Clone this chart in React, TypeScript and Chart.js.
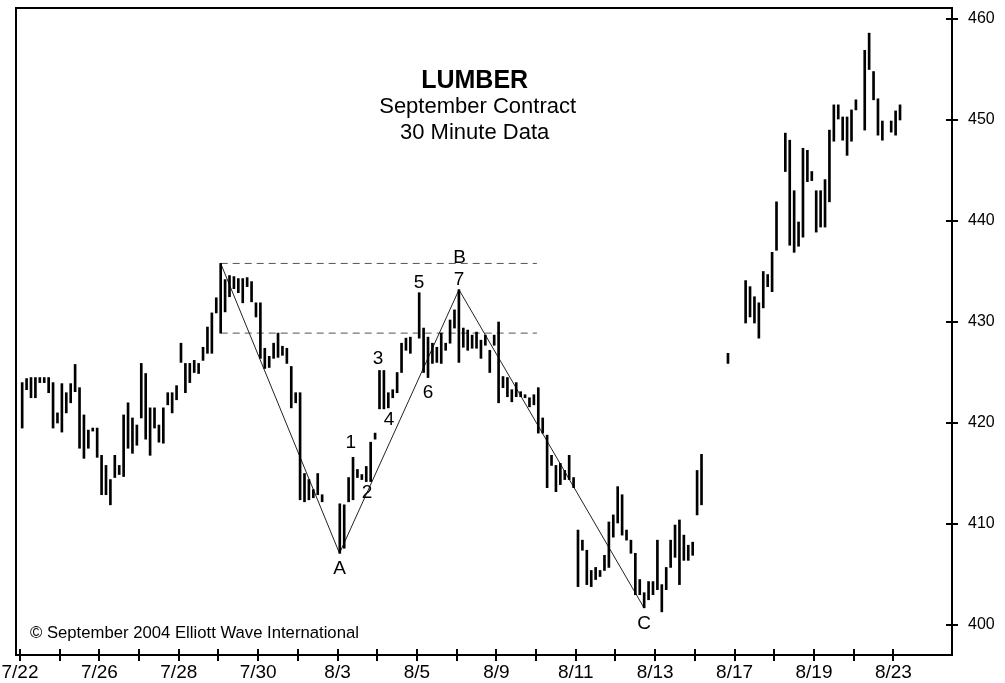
import { useEffect, useRef } from 'react';
import { Chart, registerables } from 'chart.js';

Chart.register(...registerables);

// Trading days (one x-axis tick per day, label on every other one)
const dayLabels = ['7/22', '7/23', '7/26', '7/27', '7/28', '7/29', '7/30', '8/2', '8/3', '8/4', '8/5', '8/6',
  '8/9', '8/10', '8/11', '8/12', '8/13', '8/16', '8/17', '8/18', '8/19', '8/20', '8/23'];

// 30-minute bars: 9 slots per trading day
const SLOTS = 9;
const N = null;
const barHighs: (number | null)[][] = [
  [424.0, 424.4, 424.5, 424.5, 424.5, 424.5, 424.5, 424.0, 421.0],
  [423.9, 423.0, 423.9, 425.8, 423.5, 420.8, 419.3, 419.5, 419.5],
  [416.8, 415.8, 414.4, 416.8, 415.8, 420.8, 422.0, 420.5, 419.8],
  [425.9, 424.9, 421.5, 421.5, 419.8, 421.5, 423.0, 423.0, 423.7],
  [427.9, 425.9, 425.9, 426.2, 425.9, 427.5, 429.5, 430.9, 432.4],
  [435.8, 434.2, 434.6, 434.5, 434.3, 434.3, 434.4, 434.0, 431.9],
  [431.9, 427.4, 426.6, 427.9, 428.9, 427.6, 427.4, 425.6, 423.0],
  [423.0, 415.0, 414.4, 413.4, 415.0, 412.9, N, N, N],
  [412.0, 411.9, 414.6, 416.6, 415.4, 414.9, 415.7, 418.1, 419.0],
  [425.2, 425.2, 423.0, 423.3, 425.0, 427.9, 428.4, 428.5, N],
  [432.9, 429.4, 428.5, 427.9, 427.5, 428.9, 427.9, 430.2, 431.2],
  [433.2, 429.4, 429.2, 428.7, 429.0, 428.2, 428.7, 427.2, 428.7],
  [430.0, 424.6, 424.5, 423.3, 424.0, 423.1, 422.8, 422.5, 422.8],
  [423.5, 420.5, 418.8, 416.8, 415.8, 416.0, 415.3, 416.8, 414.6],
  [409.4, 408.4, 407.4, 405.4, 405.7, 405.4, 406.9, 410.2, 410.9],
  [413.7, 412.9, 409.4, 408.4, 407.1, 404.5, 403.2, 404.3, 404.3],
  [408.4, 404.0, 405.7, 408.4, 409.9, 410.4, 408.9, 407.9, 408.2],
  [415.3, 416.9, N, N, N, N, N, 426.9, N],
  [N, N, 434.1, 433.5, 432.5, 431.9, 435.0, 434.7, 436.9],
  [441.9, N, 448.7, 448.0, 443.0, 439.9, 447.2, 447.0, 444.9],
  [443.0, 443.0, 444.1, 449.0, 451.5, 451.5, 450.3, 450.3, 451.0],
  [452.0, N, 456.9, 458.6, 454.8, 452.1, 449.9, N, 449.9],
  [450.9, 451.5, N, N, N, N, N, N, N],
];
const barLows: (number | null)[][] = [
  [419.5, 423.3, 422.5, 422.5, 424.0, 424.0, 423.0, 419.5, 420.0],
  [419.1, 421.0, 422.0, 423.1, 417.5, 416.5, 417.5, 419.2, 416.6],
  [412.9, 412.9, 411.9, 414.6, 414.9, 414.7, 417.5, 417.0, 417.8],
  [420.5, 418.4, 416.8, 419.5, 418.1, 418.0, 421.8, 421.0, 422.3],
  [426.0, 423.0, 424.0, 425.0, 424.9, 426.2, 426.9, 426.9, 430.9],
  [428.9, 431.0, 432.5, 433.3, 432.9, 431.9, 433.5, 432.0, 430.5],
  [426.4, 425.4, 425.5, 426.4, 426.5, 426.7, 425.9, 421.5, 422.0],
  [412.4, 412.2, 412.4, 412.6, 412.9, 412.2, N, N, N],
  [407.1, 407.6, 412.2, 412.4, 414.6, 414.4, 414.2, 414.2, 418.4],
  [421.4, 421.4, 421.5, 422.5, 423.0, 425.0, 427.2, 426.9, N],
  [428.4, 425.0, 424.5, 425.9, 426.0, 425.9, 427.2, 427.9, 429.4],
  [426.0, 427.5, 427.2, 427.4, 427.4, 426.4, 427.7, 425.0, 427.7],
  [422.0, 423.5, 422.6, 422.1, 422.6, 422.6, 422.5, 421.6, 421.8],
  [419.0, 419.0, 413.6, 415.8, 413.2, 413.9, 414.4, 414.4, 413.6],
  [403.8, 407.4, 404.0, 403.8, 404.5, 404.8, 405.4, 405.7, 408.7],
  [410.1, 408.9, 408.4, 407.1, 403.0, 403.0, 401.7, 402.5, 403.0],
  [403.5, 401.3, 403.5, 405.7, 406.7, 404.0, 406.4, 406.4, 406.9],
  [410.9, 411.9, N, N, N, N, N, 425.9, N],
  [N, N, 429.9, 430.5, 429.9, 428.4, 431.4, 433.5, 433.0],
  [437.1, N, 444.9, 437.6, 436.9, 437.5, 438.4, 443.9, 444.0],
  [438.9, 439.4, 439.4, 441.9, 447.9, 450.1, 448.0, 446.5, 447.9],
  [451.0, N, 449.0, 455.0, 452.0, 448.5, 448.0, N, 448.8],
  [448.5, 450.0, N, N, N, N, N, N, N],
];

const yTicks = [400, 410, 420, 430, 440, 450, 460];
const yMin = 397.03;
const yMax = 461.09;
const xMin = -0.1;
const xMax = 23.476;

// Wave path (x in trading-day units, y in price)
const zigzagX = [5.056, 8.048, 11.058, 15.718];
const zigzagY = [435.8, 407.1, 433.2, 401.7];

// Dashed reference levels
const levelValues = [435.8, 428.9];
const levelFrom = 5.056;
const levelTo = 13.02;

// Wave labels
const waveLabels = ['B', '7', '5', '3', '4', '6', '1', '2', 'A', 'C'];
const waveLabelX = [11.07, 11.06, 10.05, 9.018, 9.295, 10.28, 8.33, 8.74, 8.05, 15.72];
const waveLabelY = [436.4, 434.2, 433.9, 426.4, 420.3, 423.0, 418.0, 413.1, 405.6, 400.1];

const FONT = '"Liberation Sans", Arial, Helvetica, sans-serif';

function buildBars() {
  const pts: { x: number; y: [number, number] }[] = [];
  barHighs.forEach((row, d) => {
    row.forEach((hi, s) => {
      const lo = barLows[d][s];
      if (hi != null && lo != null) pts.push({ x: d + (s + 0.5) / SLOTS, y: [lo, hi] });
    });
  });
  return pts;
}

const overlay = {
  id: 'overlay',
  afterDraw(chart: any) {
    const { ctx, chartArea: a, scales } = chart;
    const xs = scales.x;
    const ys = scales.y;
    ctx.save();
    ctx.strokeStyle = '#000';
    ctx.lineWidth = 2;
    ctx.strokeRect(a.left, a.top, a.right - a.left, a.bottom - a.top);
    xs.ticks.forEach((t: any) => {
      const px = Math.round(xs.getPixelForValue(t.value));
      ctx.beginPath();
      ctx.moveTo(px, a.bottom - 6);
      ctx.lineTo(px, a.bottom + 6);
      ctx.stroke();
    });
    ys.ticks.forEach((t: any) => {
      const py = Math.round(ys.getPixelForValue(t.value));
      ctx.beginPath();
      ctx.moveTo(a.right - 6, py);
      ctx.lineTo(a.right + 6, py);
      ctx.stroke();
    });
    ctx.fillStyle = '#000';
    ctx.textAlign = 'center';
    ctx.textBaseline = 'middle';
    ctx.font = `19px ${FONT}`;
    waveLabels.forEach((s, i) => {
      ctx.fillText(s, xs.getPixelForValue(waveLabelX[i]), ys.getPixelForValue(waveLabelY[i]));
    });
    const w = a.right - a.left;
    const cx = a.left + w * 0.49;
    ctx.font = `bold 25px ${FONT}`;
    ctx.fillText('LUMBER', cx, a.top + 73);
    ctx.font = `22px ${FONT}`;
    ctx.fillText('September Contract', cx + 3, a.top + 99);
    ctx.fillText('30 Minute Data', cx, a.top + 125);
    ctx.textAlign = 'left';
    ctx.font = `16.7px ${FONT}`;
    ctx.fillText('\u00A9 September 2004 Elliott Wave International', a.left + 14, a.bottom - 22);
    ctx.restore();
  },
};

export default function App() {
  const ref = useRef<HTMLCanvasElement | null>(null);
  useEffect(() => {
    if (!ref.current) return;
    const lineDs = (data: { x: number; y: number }[], dash: number[], color: string) => ({
      type: 'line' as const,
      data,
      borderColor: color,
      borderWidth: 1,
      borderDash: dash,
      pointRadius: 0,
      tension: 0,
      fill: false,
    });
    const chart = new Chart(ref.current, {
      type: 'bar',
      data: {
        datasets: [
          {
            type: 'bar',
            data: buildBars() as any,
            backgroundColor: '#000',
            borderWidth: 0,
            barThickness: 2,
            grouped: false,
          } as any,
          lineDs(zigzagX.map((x, i) => ({ x, y: zigzagY[i] })), [], '#222') as any,
          ...levelValues.map((v) => lineDs([{ x: levelFrom, y: v }, { x: levelTo, y: v }], [7, 5], '#555') as any),
        ],
      },
      plugins: [overlay],
      options: {
        responsive: false,
        animation: false,
        events: [],
        layout: { padding: { left: 16, top: 8, right: 0, bottom: 0 } },
        plugins: { legend: { display: false }, tooltip: { enabled: false } },
        scales: {
          x: {
            type: 'linear',
            min: xMin,
            max: xMax,
            offset: false,
            grid: { display: false, drawTicks: false },
            border: { display: false },
            afterBuildTicks: (s: any) => {
              s.ticks = dayLabels.map((_, i) => ({ value: i }));
            },
            afterFit: (s: any) => {
              s.height = 28;
              s.paddingLeft = 0;
              s.paddingRight = 0;
            },
            ticks: {
              autoSkip: false,
              maxRotation: 0,
              minRotation: 0,
              padding: 6,
              color: '#000',
              font: { family: FONT, size: 19 },
              callback: (v: any) => (Number(v) % 2 === 0 ? dayLabels[Number(v)] : ''),
            },
          },
          y: {
            type: 'linear',
            position: 'right',
            min: yMin,
            max: yMax,
            grid: { display: false, drawTicks: false },
            border: { display: false },
            afterBuildTicks: (s: any) => {
              s.ticks = yTicks.map((v) => ({ value: v }));
            },
            afterFit: (s: any) => {
              s.width = 53;
              s.paddingTop = 0;
              s.paddingBottom = 0;
            },
            ticks: {
              padding: 16,
              color: '#000',
              font: { family: FONT, size: 16 },
              callback: (v: any) => String(v),
            },
          },
        },
      },
    });
    return () => chart.destroy();
  }, []);
  return (
    <div style={{ position: 'fixed', left: 0, top: 0, width: 1005, height: 683, background: '#fff' }}>
      <canvas ref={ref} width={1005} height={683} style={{ width: 1005, height: 683 }} />
    </div>
  );
}
